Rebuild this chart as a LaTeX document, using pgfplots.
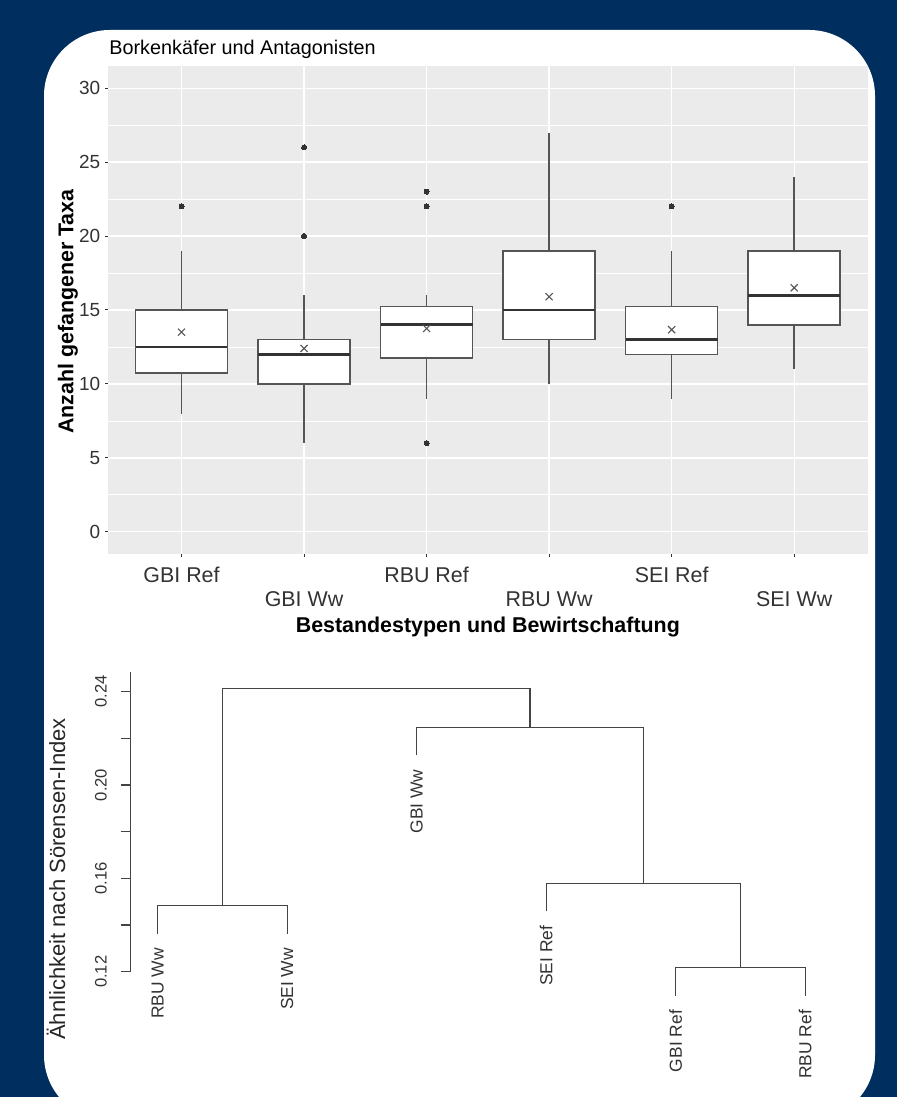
\documentclass[border=0pt]{standalone}
\usepackage{pgfplots}
\pgfplotsset{compat=1.18}
\usepgfplotslibrary{statistics}
\usepackage{fontspec}
\setmainfont{Liberation Sans}
\definecolor{navy}{RGB}{0,47,95}
\definecolor{panel}{HTML}{EBEBEB}
\definecolor{boxc}{HTML}{555555}
\definecolor{medc}{HTML}{333333}
\definecolor{txt}{HTML}{333333}
\definecolor{dgrey}{HTML}{444444}
\begin{document}
\begin{tikzpicture}
\begin{scope}
\clip (0,0) rectangle (448.5pt,548.5pt);
\fill[navy] (0,0) rectangle (448.5pt,548.5pt);
\fill[white, rounded corners=33pt] (22pt,-12pt) rectangle (437.5pt,533.5pt);
\end{scope}

\begin{axis}[
 at={(54pt,271.5pt)}, anchor=south west, scale only axis,
 width=379.85pt, height=244pt,
 xmin=0.4,xmax=6.6,ymin=-1.5,ymax=31.5,
 axis background/.style={fill=panel},
 axis line style={draw=none},
 tick pos=left,
 tick align=outside,
 major tick length=1.5pt,
 minor tick length=0pt,
 tick style={draw=medc, line width=0.5pt},
 xtick={1,3,5}, xticklabels={GBI Ref,RBU Ref,SEI Ref},
 extra x ticks={2,4,6}, extra x tick labels={GBI Ww,RBU Ww,SEI Ww},
 extra x tick style={grid=major, xticklabel style={yshift=-11.7pt}},
 ytick={0,5,10,15,20,25,30}, yticklabels={0,5,10,15,20,25,30},
 minor ytick={2.5,7.5,12.5,17.5,22.5,27.5},
 xmajorgrids, ymajorgrids, yminorgrids,
 major grid style={white, line width=0.65pt},
 minor grid style={white, line width=0.35pt},
 xticklabel style={font=\fontsize{10.7}{12}\selectfont, text=txt, anchor=base, inner sep=0pt, yshift=-12.85pt},
 yticklabel style={font=\fontsize{9.5}{11}\selectfont, text=txt, anchor=east, inner sep=0pt, xshift=-2.15pt},
 every axis title shift=0pt,
 title={Borkenkäfer und Antagonisten},
 title style={at={(axis description cs:0.0013,1.024)}, anchor=base west, inner sep=0pt, font=\fontsize{9.9}{12}\selectfont, text=black},
 xlabel={Bestandestypen und Bewirtschaftung},
 xlabel style={at={(axis description cs:0.5,-0.1619)}, anchor=base, inner sep=0pt, font=\bfseries\fontsize{10.7}{12}\selectfont, text=black},
 ylabel={Anzahl gefangener Taxa},
 ylabel style={at={(axis description cs:-0.04568,0.4965)}, anchor=base, inner sep=0pt, font=\bfseries\fontsize{10.7}{12}\selectfont, text=black},
 boxplot/draw direction=y,
 boxplot/box extend=0.75,
 boxplot/whisker extend=0,
 boxplot/every median/.style={draw=medc, line width=1.4pt},
 bx/.style={draw=boxc, fill=white, line width=0.75pt, mark=*, mark size=1.25pt, mark options={draw=medc, fill=medc, line width=0pt}},
]
\addplot[bx, boxplot prepared={draw position=1, lower whisker=8, lower quartile=10.75, median=12.5, upper quartile=15, upper whisker=19}] coordinates {(0,22)};
\addplot[bx, boxplot prepared={draw position=2, lower whisker=6, lower quartile=10, median=12, upper quartile=13, upper whisker=16}] coordinates {(0,20) (0,26)};
\addplot[bx, boxplot prepared={draw position=3, lower whisker=9, lower quartile=11.75, median=14, upper quartile=15.25, upper whisker=16}] coordinates {(0,6) (0,22) (0,23)};
\addplot[bx, boxplot prepared={draw position=4, lower whisker=10, lower quartile=13, median=15, upper quartile=19, upper whisker=27}] coordinates {};
\addplot[bx, boxplot prepared={draw position=5, lower whisker=9, lower quartile=12, median=13, upper quartile=15.25, upper whisker=19}] coordinates {(0,22)};
\addplot[bx, boxplot prepared={draw position=6, lower whisker=11, lower quartile=14, median=16, upper quartile=19, upper whisker=24}] coordinates {};
\addplot[only marks, mark=x, mark size=2.5pt, mark options={draw=boxc, line width=0.55pt}] coordinates {(1,13.5) (2,12.4) (3,13.75) (4,15.9) (5,13.67) (6,16.5)};
\end{axis}

\begin{axis}[
 at={(65.35pt,62.65pt)}, anchor=south west, scale only axis,
 width=350.2pt, height=149.7pt,
 xmin=0.7915, xmax=6.2, ymin=0.12, ymax=0.2483, clip=false,
 axis x line=none, axis y line*=left,
 axis line style={draw=dgrey, line width=0.6pt},
 ytick={0.12,0.14,0.16,0.18,0.20,0.22,0.24},
 yticklabels={0.12,,0.16,,0.20,,0.24},
 tick align=outside, major tick length=5pt,
 tick style={draw=dgrey, line width=0.6pt},
 yticklabel style={xshift=-7pt, rotate=90, anchor=base, inner sep=0pt, font=\fontsize{8.3}{10}\selectfont, text=txt},
 ylabel={Ähnlichkeit nach Sörensen-Index},
 ylabel style={at={(axis description cs:-0.0938,0.3096)}, anchor=base, inner sep=0pt, font=\fontsize{11}{13}\selectfont, text=black!85},
 dd/.style={draw=dgrey, line width=0.6pt, mark=none},
]
\addplot[dd] coordinates {(1,0.1363) (1,0.1483) (2,0.1483) (2,0.1363)};
\addplot[dd] coordinates {(5,0.1097) (5,0.1217) (6,0.1217) (6,0.1097)};
\addplot[dd] coordinates {(4,0.1459) (4,0.1579) (5.5,0.1579) (5.5,0.1217)};
\addplot[dd] coordinates {(3,0.2128) (3,0.2248) (4.75,0.2248) (4.75,0.1579)};
\addplot[dd] coordinates {(1.5,0.1483) (1.5,0.2415) (3.875,0.2415) (3.875,0.2248)};
\addplot[draw=none, mark=none, nodes near coords, point meta=explicit symbolic,
  every node near coord/.style={yshift=-7pt, rotate=90, anchor=east, inner sep=0pt, font=\fontsize{8.7}{10}\selectfont, text=txt}]
 coordinates {(1,0.1363)[RBU Ww] (2,0.1363)[SEI Ww] (3,0.2128)[GBI Ww] (4,0.1459)[SEI Ref] (5,0.1097)[GBI Ref] (6,0.1097)[RBU Ref]};
\end{axis}
\end{tikzpicture}
\end{document}
